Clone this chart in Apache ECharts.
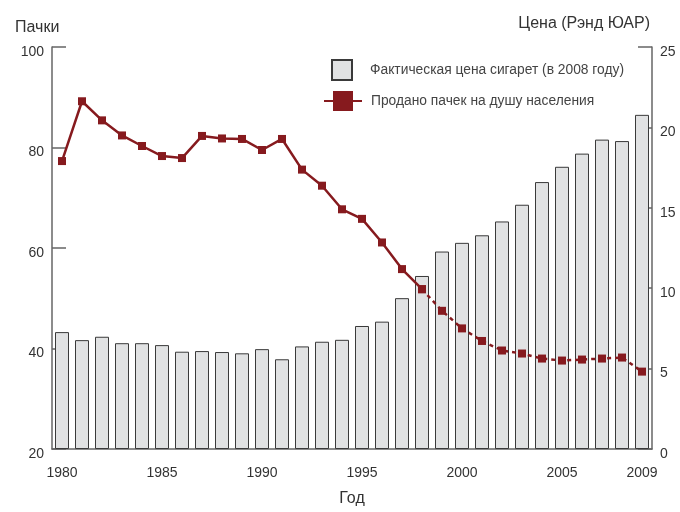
<!DOCTYPE html>
<html>
<head>
<meta charset="utf-8">
<script src="https://cdn.jsdelivr.net/npm/echarts@6/dist/echarts.min.js"></script>
<style>
  html, body { margin: 0; padding: 0; background: #fff; }
  #chart { width: 680px; height: 512px; }
</style>
</head>
<body>
<div id="chart"></div>
<script>
// годы
var years = ['1980','1981','1982','1983','1984','1985','1986','1987','1988','1989',
             '1990','1991','1992','1993','1994','1995','1996','1997','1998','1999',
             '2000','2001','2002','2003','2004','2005','2006','2007','2008','2009'];
// фактическая цена сигарет, рэнд (в ценах 2008 года)
var price = [7.27, 6.77, 6.98, 6.58, 6.58, 6.46, 6.05, 6.09, 6.03, 5.95,
             6.21, 5.58, 6.38, 6.67, 6.79, 7.65, 7.92, 9.38, 10.76, 12.28,
             12.82, 13.29, 14.15, 15.19, 16.6, 17.55, 18.37, 19.24, 19.15, 20.78];
// продано пачек на душу населения
var packs = [77.3, 89.2, 85.4, 82.4, 80.3, 78.3, 77.9, 82.3, 81.8, 81.7,
             79.5, 81.7, 75.6, 72.4, 67.7, 65.8, 61.1, 55.8, 51.8, 47.5,
             44.0, 41.5, 39.6, 39.0, 38.0, 37.6, 37.8, 38.0, 38.2, 35.4];
// последний год сплошной линии, дальше пунктир
var solidUntil = '1998';
var xLabels = ['1980','1985','1990','1995','2000','2005','2009'];

var cut = years.indexOf(solidUntil);
var packsSolid = packs.map(function(v, i){ return i <= cut ? v : null; });
var packsDashed = packs.map(function(v, i){ return i >= cut ? v : null; });

var red = '#861a1e';
var txt = '#333';
var axisCol = '#666';
var font = 'Liberation Sans, Arial, sans-serif';

var myChart = echarts.init(document.getElementById('chart'));
var option = {
    animation: false,
    textStyle: { fontFamily: font },
    title: [
        { text: 'Пачки', left: 10, top: 15,
          textStyle: { fontSize: 16, fontWeight: 'normal', color: txt, fontFamily: font } },
        { text: 'Цена (Рэнд ЮАР)', right: 25, top: 11,
          textStyle: { fontSize: 16, fontWeight: 'normal', color: txt, fontFamily: font } }
    ],
    legend: [
        {
            data: ['Фактическая цена сигарет (в 2008 году)'],
            icon: 'rect',
            left: 326, top: 54,
            itemWidth: 20, itemHeight: 20,
            textStyle: { fontSize: 13.8, color: '#444', padding: [0, 0, 0, 13] }
        },
        {
            data: ['Продано пачек на душу населения'],
            left: 318, top: 86,
            itemWidth: 38, itemHeight: 25,
            textStyle: { fontSize: 13.8, color: '#444', padding: [0, 0, 0, 4] }
        }
    ],
    grid: { left: 52, right: 28, top: 47, bottom: 60 },
    xAxis: {
        type: 'category',
        data: years,
        boundaryGap: true,
        name: 'Год',
        nameLocation: 'middle',
        nameGap: 42,
        nameTextStyle: { fontSize: 16, color: txt },
        axisLine: { lineStyle: { color: axisCol, width: 1.5 } },
        axisTick: { inside: true, length: 9, interval: 0, lineStyle: { color: axisCol } },
        axisLabel: {
            interval: 0,
            formatter: function(v){ return xLabels.indexOf(v) >= 0 ? v : ''; },
            fontSize: 14, color: txt, margin: 17
        }
    },
    yAxis: [
        {
            type: 'value', min: 20, max: 100, interval: 20,
            axisLine: { show: true, lineStyle: { color: axisCol, width: 1.5 } },
            axisTick: { show: true, inside: true, length: 14, lineStyle: { color: axisCol, width: 1.5 } },
            splitLine: { show: false },
            axisLabel: { fontSize: 14, color: txt, margin: 8, verticalAlign: 'top', lineHeight: 10 }
        },
        {
            type: 'value', min: 0, max: 25, interval: 5,
            position: 'right',
            axisLine: { show: true, lineStyle: { color: axisCol, width: 1.5 } },
            axisTick: { show: true, inside: true, length: 14, lineStyle: { color: axisCol, width: 1.5 } },
            splitLine: { show: false },
            axisLabel: { fontSize: 14, color: txt, margin: 8, verticalAlign: 'top', lineHeight: 10 }
        }
    ],
    series: [
        {
            name: 'Фактическая цена сигарет (в 2008 году)',
            type: 'bar',
            yAxisIndex: 1,
            data: price,
            barWidth: '70%',
            itemStyle: { color: '#e1e2e3', borderColor: '#3a3a3a', borderWidth: 1 },
            z: 1
        },
        {
            name: 'Продано пачек на душу населения',
            type: 'line',
            yAxisIndex: 0,
            data: packsSolid,
            symbol: 'rect',
            symbolSize: 8,
            showAllSymbol: true,
            lineStyle: { color: red, width: 2.5 },
            itemStyle: { color: red },
            z: 3
        },
        {
            name: 'пунктир',
            type: 'line',
            yAxisIndex: 0,
            data: packsDashed,
            symbol: 'rect',
            symbolSize: 8,
            showAllSymbol: true,
            lineStyle: { color: red, width: 2.5, type: [4, 4] },
            itemStyle: { color: red },
            z: 3
        }
    ]
};
myChart.setOption(option);
</script>
</body>
</html>
